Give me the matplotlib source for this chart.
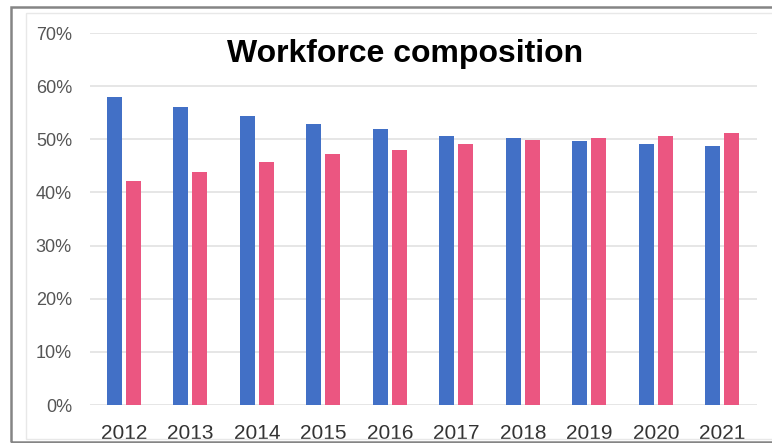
import matplotlib.pyplot as plt
import matplotlib.patches as patches
import numpy as np

years = ['2012', '2013', '2014', '2015', '2016', '2017', '2018', '2019', '2020', '2021']
men = [58.0, 56.0, 54.3, 52.9, 52.0, 50.6, 50.2, 49.7, 49.2, 48.8]
women = [42.1, 43.9, 45.7, 47.2, 47.9, 49.2, 49.9, 50.2, 50.7, 51.1]
yticks = [0, 10, 20, 30, 40, 50, 60, 70]

blue = '#4270C6'
pink = '#EB5681'

plt.rcParams['font.family'] = ['Liberation Sans', 'DejaVu Sans']

fig = plt.figure(figsize=(7.72, 4.43), dpi=100)
ax = fig.add_axes([90 / 772, 38 / 443, 667 / 772, 372 / 443])

x = np.arange(len(years))
w = 0.226
off = 0.143
ax.bar(x - off, men, width=w, color=blue, zorder=3)
ax.bar(x + off, women, width=w, color=pink, zorder=3)

ax.set_xlim(-0.51, 9.52)
ax.set_ylim(0, 70)
ax.set_yticks(yticks)
ax.set_yticklabels([f'{t}%' for t in yticks])
ax.set_xticks(x)
ax.set_xticklabels(years)
ax.grid(axis='y', color='#e2e2e2', linewidth=1.2, zorder=0)
for s in ax.spines.values():
    s.set_visible(False)
ax.tick_params(axis='y', length=0, pad=13, labelsize=13, labelcolor='#555555')
ax.tick_params(axis='x', length=0, pad=14, labelsize=15, labelcolor='#333333')

fig.text(405 / 772, 1 - 62 / 443, 'Workforce composition', ha='center', va='baseline',
         fontsize=23, fontweight='bold', color='black')

# outer frames
fig.patches.append(patches.Rectangle((26 / 772, 4 / 443), 760 / 772, 426 / 443,
                                     transform=fig.transFigure, fill=False,
                                     edgecolor='#e8e8e8', linewidth=1))
fig.patches.append(patches.Rectangle((11 / 772, 1 / 443), 770 / 772, 435 / 443,
                                     transform=fig.transFigure, fill=False,
                                     edgecolor='#858585', linewidth=1.8))

fig.savefig('out.png', dpi=100)
